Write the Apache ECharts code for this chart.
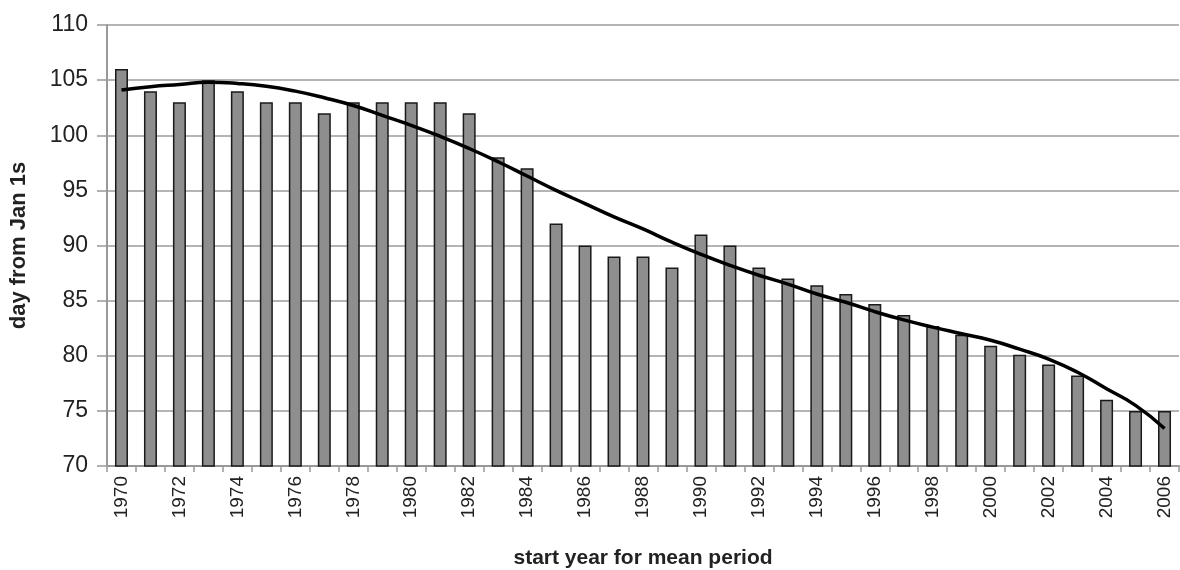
<!DOCTYPE html>
<html>
<head>
<meta charset="utf-8">
<script src="https://cdn.jsdelivr.net/npm/echarts@6/dist/echarts.min.js"></script>
<style>
html,body{margin:0;padding:0;background:#fff;}
#chart{width:1180px;height:570px;}
</style>
</head>
<body>
<div id="chart"></div>
<script>
var years = ['1970','1971','1972','1973','1974','1975','1976','1977','1978','1979',
  '1980','1981','1982','1983','1984','1985','1986','1987','1988','1989',
  '1990','1991','1992','1993','1994','1995','1996','1997','1998','1999',
  '2000','2001','2002','2003','2004','2005','2006'];
var dayValues = [106,104,103,105,104,103,103,102,103,103,
  103,103,102,98,97,92,90,89,89,88,
  91,90,88,87,86.4,85.6,84.7,83.7,82.7,81.9,
  80.9,80.1,79.2,78.2,76,75,75];
var trendValues = [104.1,104.4,104.6,104.8,104.7,104.45,104.0,103.4,102.7,101.8,
  100.9,99.9,98.8,97.6,96.3,95.0,93.8,92.6,91.5,90.3,
  89.2,88.2,87.3,86.5,85.6,84.85,84.0,83.25,82.6,82.0,
  81.4,80.6,79.7,78.5,77.0,75.5,73.4];
var yTicks = [70,75,80,85,90,95,100,105,110];

var chart = echarts.init(document.getElementById('chart'));
chart.setOption({
  animation: false,
  backgroundColor: '#ffffff',
  grid: {left: 107, right: 1, top: 25, bottom: 104, containLabel: false, outerBoundsMode: 'none'},
  xAxis: {
    type: 'category',
    data: years,
    name: 'start year for mean period',
    nameLocation: 'middle',
    nameGap: 82,
    nameTextStyle: {fontFamily: 'Liberation Sans, Arial, sans-serif', fontSize: 21, fontWeight: 'bold', color: '#222'},
    axisLine: {lineStyle: {color: '#999', width: 2}},
    axisTick: {show: true, alignWithLabel: false, interval: 0, length: 6, lineStyle: {color: '#999', width: 1.5}},
    axisLabel: {
      interval: 1,
      rotate: 90,
      margin: 10,
      fontFamily: 'Liberation Sans, Arial, sans-serif',
      fontSize: 19,
      color: '#222'
    },
    splitLine: {show: false}
  },
  yAxis: {
    type: 'value',
    min: yTicks[0],
    max: yTicks[yTicks.length - 1],
    interval: 5,
    name: 'day from Jan 1s',
    nameLocation: 'middle',
    nameGap: 77,
    nameRotate: 90,
    nameTextStyle: {fontFamily: 'Liberation Sans, Arial, sans-serif', fontSize: 22, fontWeight: 'bold', color: '#222'},
    axisLine: {show: true, lineStyle: {color: '#999', width: 2}},
    axisTick: {show: true, length: 10, lineStyle: {color: '#999', width: 1.5}},
    axisLabel: {margin: 19, fontFamily: 'Liberation Sans, Arial, sans-serif', fontSize: 23, color: '#222'},
    splitLine: {show: true, lineStyle: {color: '#b4b4b4', width: 2}}
  },
  series: [
    {
      type: 'bar',
      data: dayValues,
      barWidth: 13,
      itemStyle: {color: '#8e8e8e', borderColor: '#1a1a1a', borderWidth: 1.5},
      z: 2
    },
    {
      type: 'line',
      data: trendValues,
      smooth: true,
      symbol: 'none',
      lineStyle: {color: '#000', width: 3.5},
      z: 3
    }
  ]
});
</script>
</body>
</html>
